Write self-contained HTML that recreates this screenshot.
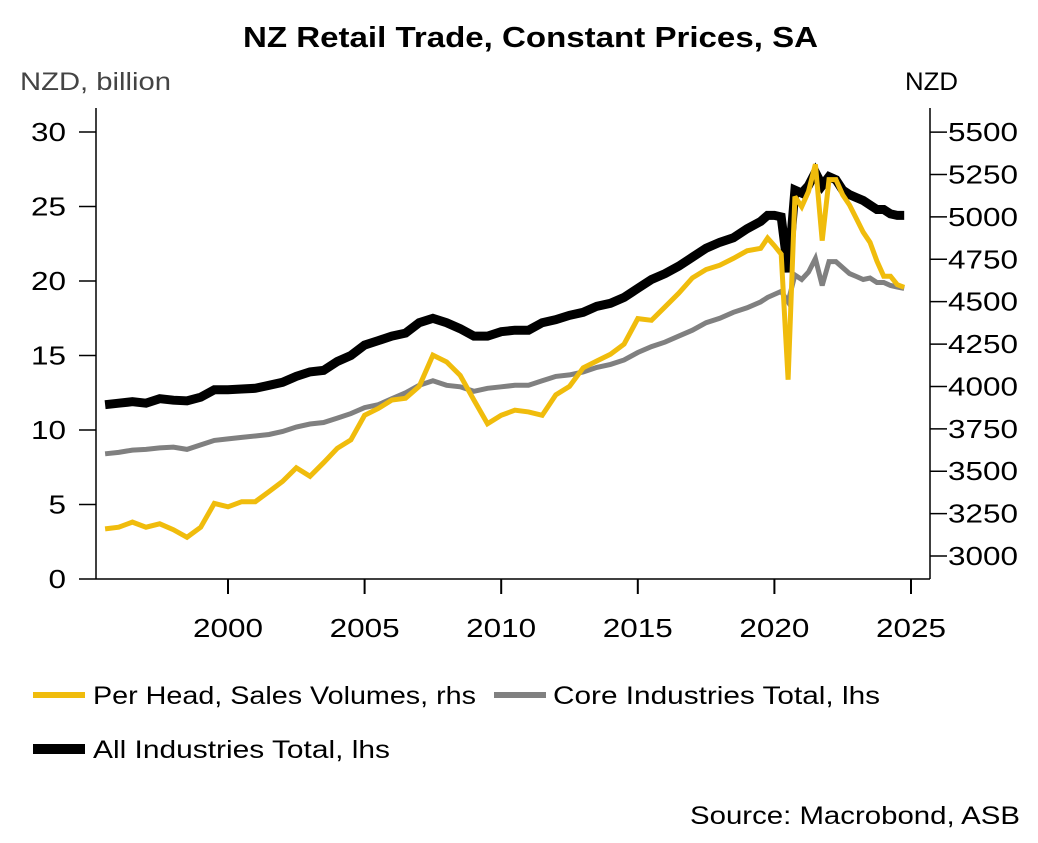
<!DOCTYPE html>
<html><head><meta charset="utf-8"><style>
html,body{margin:0;padding:0;background:#fff;}
svg{display:block;font-family:"Liberation Sans",sans-serif;}
</style></head><body>
<svg id="chart" width="1038" height="843" viewBox="0 0 1038 843">
<text x="243" y="47" font-size="29" font-weight="bold" fill="#000" textLength="575" lengthAdjust="spacingAndGlyphs">NZ Retail Trade, Constant Prices, SA</text>
<text x="20" y="90" font-size="25" fill="#444" textLength="151" lengthAdjust="spacingAndGlyphs">NZD, billion</text>
<text x="905" y="90" font-size="25" fill="#000" textLength="53" lengthAdjust="spacingAndGlyphs">NZD</text>
<g id="axes"></g>
<g id="series"></g>
<g>
<line x1="33" y1="695" x2="85" y2="695" stroke="#F0BC0C" stroke-width="6"/>
<text x="93" y="704" font-size="25" textLength="383" lengthAdjust="spacingAndGlyphs">Per Head, Sales Volumes, rhs</text>
<line x1="494" y1="695" x2="546" y2="695" stroke="#808080" stroke-width="6"/>
<text x="553" y="704" font-size="25" textLength="327" lengthAdjust="spacingAndGlyphs">Core Industries Total, lhs</text>
<line x1="33" y1="749" x2="85" y2="749" stroke="#000" stroke-width="10"/>
<text x="93" y="758" font-size="25" textLength="297" lengthAdjust="spacingAndGlyphs">All Industries Total, lhs</text>
</g>
<text x="690" y="824" font-size="25" textLength="330" lengthAdjust="spacingAndGlyphs">Source: Macrobond, ASB</text>
</svg>
<script>
const leftTicks = [0,5,10,15,20,25,30];
const rightTicks = [3000,3250,3500,3750,4000,4250,4500,4750,5000,5250,5500];
const xTicks = [2000,2005,2010,2015,2020,2025];
const allIndustries = [11.7,11.8,11.9,11.8,12.1,12.0,11.95,12.2,12.7,12.7,12.75,12.8,13.0,13.2,13.6,13.9,14.0,14.6,15.0,15.7,16.0,16.3,16.5,17.2,17.5,17.2,16.8,16.3,16.3,16.6,16.7,16.7,17.2,17.4,17.7,17.9,18.3,18.5,18.9,19.5,20.1,20.5,21.0,21.6,22.2,22.6,22.9,23.5,24.0,24.4,24.4,24.3,20.6,26.1,25.9,26.4,27.3,26.4,27.0,26.8,26.1,25.8,25.6,25.4,25.1,24.8,24.8,24.5,24.4,24.4];
const coreIndustries = [8.4,8.5,8.65,8.7,8.8,8.85,8.7,9.0,9.3,9.4,9.5,9.6,9.7,9.9,10.2,10.4,10.5,10.8,11.1,11.5,11.7,12.1,12.5,13.0,13.3,13.0,12.9,12.6,12.8,12.9,13.0,13.0,13.3,13.6,13.7,13.9,14.2,14.4,14.7,15.2,15.6,15.9,16.3,16.7,17.2,17.5,17.9,18.2,18.6,18.9,19.1,19.3,18.6,20.4,20.1,20.6,21.5,19.7,21.3,21.3,20.9,20.5,20.3,20.1,20.2,19.9,19.9,19.7,19.6,19.5];
const perHead = [3160,3170,3200,3170,3190,3155,3110,3170,3310,3290,3320,3320,3380,3440,3520,3470,3550,3635,3685,3830,3870,3920,3930,4000,4185,4145,4065,3920,3780,3830,3860,3850,3830,3950,4000,4110,4150,4190,4250,4400,4390,4470,4550,4640,4690,4715,4755,4800,4815,4875,4830,4780,4040,5120,5060,5150,5310,4860,5220,5220,5130,5070,4990,4910,4850,4740,4650,4650,4600,4585];
const dates = [];
for (let t = 1995.5; t <= 2019.5001; t += 0.5) dates.push(t);
for (let t = 2019.75; t <= 2024.7501; t += 0.25) dates.push(t);

const X = t => 228 + (t - 2000) * 27.32;
const YL = v => 579 - v * 14.9;
const YR = v => 556 - (v - 3000) * 0.16955;
const NS = 'http://www.w3.org/2000/svg';
const axes = document.getElementById('axes');
const series = document.getElementById('series');
function mk(tag, attrs, parent){ const e = document.createElementNS(NS, tag); for (const k in attrs) e.setAttribute(k, attrs[k]); parent.appendChild(e); return e; }
const DW = 17.5;

let e;
e = mk('line',{x1:96,y1:108,x2:96,y2:579,stroke:'#000','stroke-width':1.5},axes);


e = mk('line',{x1:930,y1:108,x2:930,y2:579,stroke:'#000','stroke-width':1.5},axes);


e = mk('line',{x1:96,y1:579,x2:930,y2:579,stroke:'#000','stroke-width':1.5},axes);



leftTicks.forEach(v => {
  const y = YL(v);
  const t = mk('line',{x1:79,y1:y,x2:96,y2:y,stroke:'#000','stroke-width':1.5},axes);
  
  
  const s = String(v);
  const w = s.length * DW;
  const l = mk('text',{x:66 - w,y:y+9,'font-size':26,textLength:w,lengthAdjust:'spacingAndGlyphs'},axes);
  l.textContent = s;
  
  
});
rightTicks.forEach(v => {
  const y = YR(v);
  const t = mk('line',{x1:930,y1:y,x2:947,y2:y,stroke:'#000','stroke-width':1.5},axes);
  
  
  const l = mk('text',{x:948,y:y+9,'font-size':26,textLength:70,lengthAdjust:'spacingAndGlyphs'},axes);
  l.textContent = v;
  
  
});
xTicks.forEach(v => {
  const x = X(v);
  const t = mk('line',{x1:x,y1:579,x2:x,y2:594,stroke:'#000','stroke-width':2},axes);
  
  
  const l = mk('text',{x:x-35,y:637,'font-size':26,textLength:70,lengthAdjust:'spacingAndGlyphs'},axes);
  l.textContent = v;
  
  
});

function line(vals, yfn, color, w, name){
  const d = vals.map((v,i) => (i?'L':'M') + X(dates[i]).toFixed(1) + ',' + yfn(v).toFixed(1)).join('');
  const p = mk('path',{d:d,fill:'none',stroke:color,'stroke-width':w,'stroke-linejoin':'miter','stroke-miterlimit':3},series);
  
  
}
line(allIndustries, YL, '#000', 9, 'all-industries-line');
line(coreIndustries, YL, '#808080', 5, 'core-industries-line');
line(perHead, YR, '#F0BC0C', 5, 'per-head-line');
</script>
</body></html>
